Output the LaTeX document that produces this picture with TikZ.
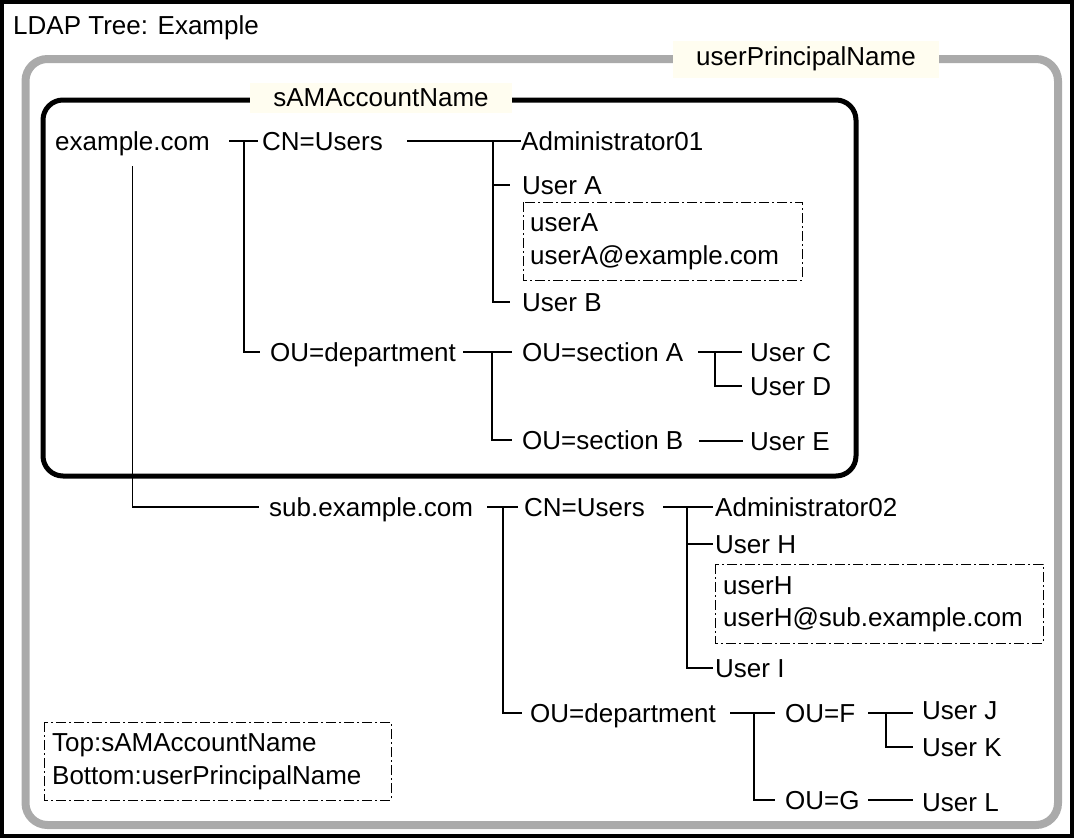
\documentclass[tikz,border=0pt]{standalone}
\usepackage{fontspec}
\setmainfont{Liberation Sans}
\definecolor{cream}{RGB}{255,253,240}
\definecolor{frame}{RGB}{170,170,170}
\begin{document}
\begin{tikzpicture}[x=1pt,y=-1pt,
  txt/.style={anchor=west,inner sep=0pt,text height=18.5pt,text depth=0pt,font=\fontsize{26}{31}\selectfont},
  lbl/.style={fill=cream,inner sep=0pt,font=\fontsize{26}{31}\selectfont},
  conn/.style={line width=1.3pt},
  dashdot/.style={line width=1pt,dash pattern=on 10pt off 3pt on 2pt off 3pt}]
\useasboundingbox (0,0) rectangle (1074,838);
\draw[line width=4pt] (2,2) rectangle (1072,836);
\node[txt] (title) at (13,25) {LDAP Tree: Example};
% frames
\draw[line width=8pt,draw=frame,rounded corners=22pt] (25.5,59) rectangle (1058,825);
\draw[line width=5pt,rounded corners=20pt] (43,100) rectangle (856,476);
\node[lbl,minimum width=266pt,minimum height=37pt] (upn) at (806,59) {userPrincipalName};
\node[lbl,minimum width=262pt,minimum height=30pt] (sam) at (381,98) {sAMAccountName};
% tree 1
\node[txt] (ex) at (55,141) {example.com};
\node[txt] (cn) at (262,141) {CN=Users};
\node[txt] (adm) at (521,141) {Administrator01};
\node[txt] (ua) at (522,185) {User A};
\node[txt] (uaa) at (530,222) {userA};
\node[txt] (uab) at (530,255) {userA@example.com};
\draw[dashdot] (523,202) rectangle (802,280);
\node[txt] (ub) at (522,302) {User B};
\node[txt] (dep) at (270,352) {OU=department};
\node[txt] (seca) at (522,352) {OU=section A};
\node[txt] (uc) at (750,352) {User C};
\node[txt] (ud) at (750,386) {User D};
\node[txt] (secb) at (522,440) {OU=section B};
\node[txt] (ue) at (750,441) {User E};
% tree 2
\node[txt] (sub) at (269,507) {sub.example.com};
\node[txt] (cn2) at (524,507) {CN=Users};
\node[txt] (adm2) at (715,507) {Administrator02};
\node[txt] (uh) at (715,544) {User H};
\node[txt] (uha) at (723,585) {userH};
\node[txt] (uhb) at (723,617) {userH@sub.example.com};
\draw[dashdot] (715,564) rectangle (1043,643);
\node[txt] (ui) at (715,668) {User I};
\node[txt] (dep2) at (530,713) {OU=department};
\node[txt] (ouf) at (785,713) {OU=F};
\node[txt] (uj) at (922,710) {User J};
\node[txt] (uk) at (922,747) {User K};
\node[txt] (oug) at (785,800) {OU=G};
\node[txt] (ul) at (922,802) {User L};
% legend
\node[txt] (lt) at (52,742) {Top:sAMAccountName};
\node[txt] (lb) at (52,775) {Bottom:userPrincipalName};
\draw[dashdot] (44,722) rectangle (391,800);
% connectors tree 1
\draw[conn] ([xshift=-33]cn.west) -- ([xshift=-4]cn.west);
\draw[conn] ([xshift=-18]cn.west) |- ([xshift=-10]dep.west);
\draw[conn] ([xshift=-114]adm.west) -- (adm.west);
\draw[conn] ([xshift=-28]adm.west) |- ([xshift=-12]ub.west);
\draw[conn] ([xshift=-28]ua.west) -- ([xshift=-12]ua.west);
\draw[conn] ([xshift=-59]seca.west) -- ([xshift=-10]seca.west);
\draw[conn] ([xshift=-30]seca.west) |- ([xshift=-10]secb.west);
\draw[conn] ([xshift=-52]uc.west) -- ([xshift=-8]uc.west);
\draw[conn] ([xshift=-35]uc.west) |- ([xshift=-8]ud.west);
\draw[conn] ([xshift=-51]ue.west) -- ([xshift=-7]ue.west);
\draw[conn] ([yshift=-16]ex.south) |- ([xshift=-10]sub.west);
% connectors tree 2
\draw[conn] ([xshift=-37]cn2.west) -- ([xshift=-6]cn2.west);
\draw[conn] ([xshift=-21]cn2.west) |- ([xshift=-8]dep2.west);
\draw[conn] ([xshift=-52]adm2.west) -- ([xshift=-2]adm2.west);
\draw[conn] ([xshift=-28]adm2.west) |- ([xshift=-2]ui.west);
\draw[conn] ([xshift=-28]uh.west) -- ([xshift=-2]uh.west);
\draw[conn] ([xshift=-55]ouf.west) -- ([xshift=-10]ouf.west);
\draw[conn] ([xshift=-31]ouf.west) |- ([xshift=-10]oug.west);
\draw[conn] ([xshift=-54]uj.west |- ouf.west) -- ([xshift=-9]uj.west |- ouf.west);
\draw[conn] ([xshift=-36]uj.west |- ouf.west) |- ([xshift=-9]uk.west);
\draw[conn] ([xshift=-54]ul.west |- oug.west) -- ([xshift=-9]ul.west |- oug.west);
\end{tikzpicture}
\end{document}
